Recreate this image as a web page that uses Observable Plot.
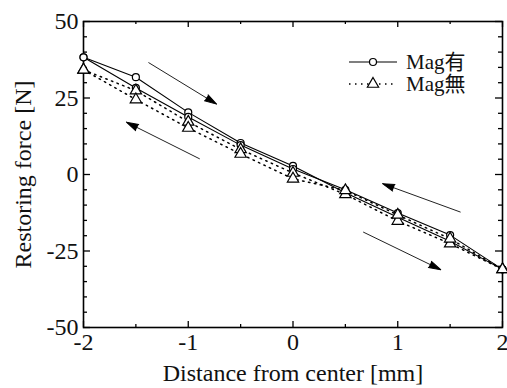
<!DOCTYPE html>
<html><head><meta charset="utf-8">
<script src="https://cdn.jsdelivr.net/npm/d3@7"></script>
<script src="https://cdn.jsdelivr.net/npm/@observablehq/plot@0.6"></script>
<style>
body{margin:0;background:#fff;}
#wrap{position:relative;width:507px;height:388px;overflow:hidden;}
#wrap svg text{font-family:"Liberation Serif","Times New Roman",serif;}
#legend{position:absolute;left:348px;top:51px;font-family:"Liberation Serif","Times New Roman","Noto Sans CJK JP",serif;font-size:21px;color:#111;}
#legend .row{display:flex;align-items:center;height:22px;line-height:22px;}
#legend svg{display:block;margin-right:8px;}
</style></head><body><div id="wrap"><div id="legend"></div></div>
<script>
// ---- data ----
const distance = [-2, -1.5, -1, -0.5, 0, 0.5, 1, 1.5, 2];
const magAriForward  = [38.3, 31.8, 20.3, 10.3, 2.8, -6.0, -14.0, -21.8, -31.0];
const magAriBackward = [38.3, 28.3, 18.8, 9.6, 1.8, -5.0, -12.6, -19.8, -31.0];
const magNashiForward  = [34.2, 27.4, 17.2, 8.2, 0.5, -6.5, -15.2, -22.6, -31.0];
const magNashiBackward = [34.2, 24.5, 15.2, 6.7, -1.4, -5.2, -13.2, -21.0, -31.0];
const seriesNames = ["Mag有", "Mag無"];

const xTickLabels = [-2, -1, 0, 1, 2];
const xMinorTicks = [-1.5, -0.5, 0.5, 1.5];
const yTickLabels = [-50, -25, 0, 25, 50];
const yMinorTicks = [-45, -40, -35, -30, -20, -15, -10, -5, 5, 10, 15, 20, 30, 35, 40, 45];

// direction arrows (tail -> head), data units
const arrowX1 = [-1.38, -0.89, 1.60, 0.67];
const arrowY1 = [36.6, 5.1, -12.3, -18.8];
const arrowX2 = [-0.73, -1.59, 0.855, 1.41];
const arrowY2 = [23.0, 17.1, -3.0, -31.1];

const W = 507, H = 388, mL = 83, mR = 5, mT = 21, mB = 61;
const fw = W - mL - mR, fh = H - mT - mB;
const pxPerX = fw / 4, pxPerY = fh / 100;
const headLen = 12;

// ---- tables ----
function branch(series, dir, ys) {
  return distance.map((x, i) => ({series, branch: series + dir, x, y: ys[i]}));
}
const ari = [...branch(seriesNames[0], "f", magAriForward), ...branch(seriesNames[0], "b", magAriBackward)];
const nashi = [...branch(seriesNames[1], "f", magNashiForward), ...branch(seriesNames[1], "b", magNashiBackward)];
const arrows = arrowX1.map((x1, i) => ({x1, y1: arrowY1[i], x2: arrowX2[i], y2: arrowY2[i]}));
const heads = arrows.map(a => {
  const dxs = (a.x2 - a.x1) * pxPerX, dys = -(a.y2 - a.y1) * pxPerY;
  const len = Math.hypot(dxs, dys);
  const back = headLen / len; // base of the head, so its tip lands on the arrow end
  return {x: a.x2 - back * (a.x2 - a.x1), y: a.y2 - back * (a.y2 - a.y1),
          angle: Math.atan2(dxs, -dys) * 180 / Math.PI};
});

const chart = Plot.plot({
  width: W, height: H,
  marginLeft: mL, marginRight: mR, marginTop: mT, marginBottom: mB,
  style: {fontFamily: "'Liberation Serif', 'Times New Roman', serif", fontSize: "24px", color: "#111", background: "white"},
  x: {domain: [-2, 2], ticks: xTickLabels, tickSize: 0, tickPadding: 5, tickFormat: d => String(d),
      label: "Distance from center [mm]", labelAnchor: "center", labelArrow: "none", labelOffset: 53},
  y: {domain: [-50, 50], ticks: yTickLabels, tickSize: 0, tickPadding: 5, tickFormat: d => String(d),
      label: "Restoring force [N]", labelAnchor: "center", labelArrow: "none", labelOffset: 70},
  marks: [
    // inward ticks
    Plot.tickX(xTickLabels, {x: d => d, insetTop: fh - 6, stroke: "black", strokeWidth: 1.3}),
    Plot.tickX(xTickLabels, {x: d => d, insetBottom: fh - 6, stroke: "black", strokeWidth: 1.3}),
    Plot.tickX(xMinorTicks, {x: d => d, insetTop: fh - 3, stroke: "black", strokeWidth: 1.3}),
    Plot.tickX(xMinorTicks, {x: d => d, insetBottom: fh - 3, stroke: "black", strokeWidth: 1.3}),
    Plot.tickY(yTickLabels, {y: d => d, insetRight: fw - 7, stroke: "black", strokeWidth: 1.3}),
    Plot.tickY(yTickLabels, {y: d => d, insetLeft: fw - 7, stroke: "black", strokeWidth: 1.3}),
    Plot.tickY(yMinorTicks, {y: d => d, insetRight: fw - 4, stroke: "black", strokeWidth: 1.3}),
    Plot.tickY(yMinorTicks, {y: d => d, insetLeft: fw - 4, stroke: "black", strokeWidth: 1.3}),
    Plot.frame({stroke: "black", strokeWidth: 1.6}),
    // arrows
    Plot.link(arrows, {x1: "x1", y1: "y1", x2: "x2", y2: "y2", stroke: "#222", strokeWidth: 1}),
    Plot.vector(heads, {x: "x", y: "y", rotate: "angle", length: headLen, anchor: "start", shape: "spike", r: 3.5, fill: "black", stroke: "black", strokeWidth: 1}),
    // series
    Plot.line(nashi, {x: "x", y: "y", z: "branch", stroke: "black", strokeWidth: 1.5, strokeDasharray: "1.5,4.5"}),
    Plot.line(ari, {x: "x", y: "y", z: "branch", stroke: "black", strokeWidth: 1.1}),
    Plot.dot(ari, {x: "x", y: "y", r: 3.5, fill: "white", stroke: "black", strokeWidth: 1.2}),
    Plot.dot(nashi, {x: "x", y: "y", symbol: "triangle", r: 4.2, fill: "white", stroke: "black", strokeWidth: 1.2})
  ]
});
document.getElementById("wrap").prepend(chart);

// legend
const leg = d3.select("#legend");
const r1 = leg.append("div").attr("class", "row");
const s1 = r1.append("svg").attr("width", 50).attr("height", 20);
s1.append("line").attr("x1", 1).attr("x2", 49).attr("y1", 10).attr("y2", 10).attr("stroke", "black").attr("stroke-width", 1.2);
s1.append("circle").attr("cx", 25).attr("cy", 10).attr("r", 3.5).attr("fill", "white").attr("stroke", "black").attr("stroke-width", 1.2);
r1.append("span").text(seriesNames[0]);
const r2 = leg.append("div").attr("class", "row");
const s2 = r2.append("svg").attr("width", 50).attr("height", 20);
s2.append("line").attr("x1", 1).attr("x2", 49).attr("y1", 10).attr("y2", 10).attr("stroke", "black").attr("stroke-width", 1.5).attr("stroke-dasharray", "1.5,4.5");
s2.append("path").attr("d", d3.symbol(d3.symbolTriangle, 55)()).attr("transform", "translate(25,10)").attr("fill", "white").attr("stroke", "black").attr("stroke-width", 1.2);
r2.append("span").text(seriesNames[1]);
</script>
</body></html>
